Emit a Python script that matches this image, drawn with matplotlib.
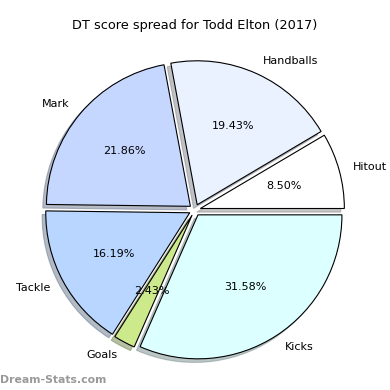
import matplotlib
matplotlib.use("Agg")
import matplotlib.pyplot as plt

labels = ["Hitout", "Handballs", "Mark", "Tackle", "Goals", "Kicks"]
shares = [8.50, 19.43, 21.86, 16.19, 2.43, 31.58]
colors = ["#ffffff", "#eaf1ff", "#c5d7ff", "#b8d6ff", "#cce98b", "#dcffff"]
explode = [0.04] * len(labels)

fig = plt.figure(figsize=(3.9, 3.9), dpi=100)
ax = fig.add_axes([0.038, 0.0, 0.923, 0.923])

ax.pie(shares, labels=labels, colors=colors, explode=explode,
       autopct="%1.2f%%", startangle=0,
       shadow={"ox": -0.018, "oy": -0.018, "shade": 0.45},
       wedgeprops={"edgecolor": "black", "linewidth": 0.8},
       textprops={"fontsize": 8})
ax.set_aspect("equal")
ax.set_xlim(-1.25, 1.25)
ax.set_ylim(-1.25, 1.25)

fig.text(0.5, 0.935, "DT score spread for Todd Elton (2017)", ha="center",
         va="center", fontsize=9.3)
fig.text(0.0, 0.025, "Dream-Stats.com", ha="left", va="center",
         fontsize=7.8, color="#999999", fontweight="bold")

fig.savefig("out.png", dpi=100)
